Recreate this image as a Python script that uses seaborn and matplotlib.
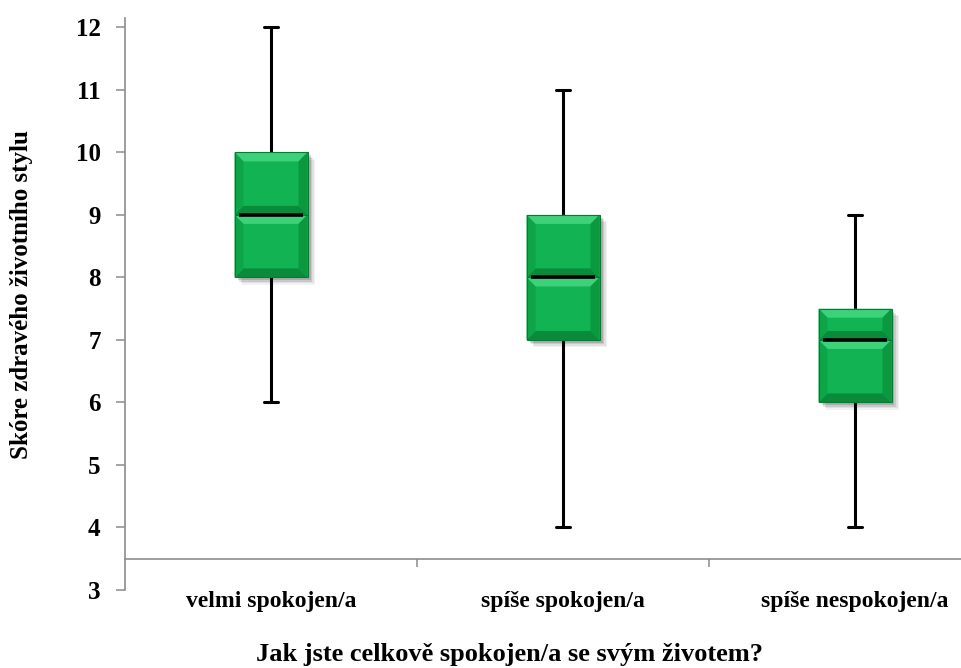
import numpy as np
import pandas as pd
import matplotlib
matplotlib.use("Agg")
import matplotlib.pyplot as plt
from matplotlib.patches import Polygon, Rectangle
from matplotlib.ticker import FixedLocator
import seaborn as sns

# ---------------- data ----------------
categories = ["velmi spokojen/a", "spíše spokojen/a", "spíše nespokojen/a"]
# small samples whose min / Q1 / median / Q3 / max reproduce the boxes
scores_velmi = [6, 8, 8, 9, 10, 10, 12]
scores_spise = [4, 7, 7, 8, 9, 9, 11]
scores_nespok = [4, 6, 6, 7, 7.5, 7.5, 9]
y_ticks = [3, 4, 5, 6, 7, 8, 9, 10, 11, 12]
y_label = "Skóre zdravého životního stylu"
x_label = "Jak jste celkově spokojen/a se svým životem?"

groups = [scores_velmi, scores_spise, scores_nespok]
df = pd.DataFrame({
    "group": np.repeat(categories, [len(g) for g in groups]),
    "score": np.concatenate(groups),
})

# ---------------- style ----------------
sns.set_theme(style="white")
plt.rcParams["font.family"] = ["Liberation Serif", "DejaVu Serif"]
plt.rcParams["font.weight"] = "bold"
plt.rcParams["text.color"] = "black"
plt.rcParams["axes.labelcolor"] = "black"
plt.rcParams["xtick.labelcolor"] = "black"
plt.rcParams["ytick.labelcolor"] = "black"

GREEN = "#12b352"
LIGHT = "#3dd27a"
DARK = "#0a8a3b"
MID = "#0ea548"
MID2 = "#0b983f"

fig = plt.figure(figsize=(9.61, 6.68), dpi=100)
ax = fig.add_axes([125 / 961, 78 / 668, 876 / 961, 572 / 668])

sns.boxplot(data=df, x="group", y="score", order=categories, whis=(0, 100),
            width=0.25, color=GREEN, saturation=1, linecolor="black",
            linewidth=2.2, showfliers=False, ax=ax,
            medianprops={"color": "black", "linewidth": 2.6})

ax.set_xlim(-0.5, 2.5)
ax.set_ylim(3, 12.15)

# pixel -> data conversions
p0 = ax.transData.transform((0, 0))
px_x = ax.transData.transform((1, 0))[0] - p0[0]
px_y = ax.transData.transform((0, 1))[1] - p0[1]

# shrink whisker caps and inset medians
for ln in ax.lines:
    xd, yd = np.asarray(ln.get_xdata(), float), np.asarray(ln.get_ydata(), float)
    if len(xd) == 2 and yd[0] == yd[1] and abs(xd[1] - xd[0]) < 0.2:
        c = xd.mean()
        half = 7 / px_x
        ln.set_xdata([c - half, c + half])
    if len(xd) == 2 and yd[0] == yd[1] and abs(xd[1] - xd[0]) >= 0.2:
        c = xd.mean()
        half = (xd[1] - xd[0]) / 2 * 0.88
        ln.set_xdata([c - half, c + half])

# bevelled boxes
bx, by = 9 / px_x, 9 / px_y
for i, patch in enumerate(ax.patches[:len(categories)]):
    verts = patch.get_path().vertices
    x0, x1 = verts[:, 0].min(), verts[:, 0].max()
    q1, q3 = verts[:, 1].min(), verts[:, 1].max()
    med = float(np.median(groups[i]))
    patch.set_edgecolor("none")
    patch.set_facecolor(GREEN)
    # shadow
    for k, a in enumerate([0.14, 0.10, 0.07, 0.05]):
        off = (3 + k * 1.5)
        ax.add_patch(Rectangle((x0 + off / px_x, q1 - off / px_y), x1 - x0, q3 - q1,
                               facecolor="black", edgecolor="none", alpha=a, zorder=1.8))
    for (y0, y1) in [(q1, med), (med, q3)]:
        ax.add_patch(Rectangle((x0, y0), x1 - x0, y1 - y0, facecolor=GREEN,
                               edgecolor="none", zorder=2.02))
        polys = [
            ([(x0, y1), (x1, y1), (x1 - bx, y1 - by), (x0 + bx, y1 - by)], LIGHT),
            ([(x0, y0), (x1, y0), (x1 - bx, y0 + by), (x0 + bx, y0 + by)], DARK),
            ([(x0, y0), (x0 + bx, y0 + by), (x0 + bx, y1 - by), (x0, y1)], MID),
            ([(x1, y0), (x1 - bx, y0 + by), (x1 - bx, y1 - by), (x1, y1)], MID2),
        ]
        for pts, col in polys:
            ax.add_patch(Polygon(pts, closed=True, facecolor=col, edgecolor="none",
                                 zorder=2.03))
        ax.add_patch(Rectangle((x0, y0), x1 - x0, y1 - y0, facecolor="none",
                               edgecolor="#087a33", linewidth=0.8, zorder=2.04))

# axes styling
for s in ["top", "right"]:
    ax.spines[s].set_visible(False)
ax.spines["left"].set_color("#8c8c8c")
ax.spines["left"].set_linewidth(1.2)
ax.spines["bottom"].set_color("#8c8c8c")
ax.spines["bottom"].set_linewidth(1.2)
ax.spines["bottom"].set_position(("data", 3.5))

ax.set_yticks(y_ticks)
ax.tick_params(axis="y", which="major", left=True, length=6.5, width=1.1,
               color="#8c8c8c", direction="out", labelsize=18, pad=11)
for t in ax.get_yticklabels():
    t.set_fontweight("bold")

ax.set_xticks(range(len(categories)))
ax.set_xticklabels(categories)
ax.xaxis.set_minor_locator(FixedLocator([0.5, 1.5, 2.5]))
ax.tick_params(axis="x", which="major", bottom=True, length=0, labelsize=17, pad=23)
ax.tick_params(axis="x", which="minor", bottom=True, length=6, width=1.1,
               color="#8c8c8c", direction="out")
for t in ax.get_xticklabels():
    t.set_fontweight("bold")

ax.set_xlabel(x_label, fontsize=19, fontweight="bold")
ax.xaxis.label.set_va("center")
ax.xaxis.set_label_coords((509 - 125) / 876, -65 / 572)
ax.set_ylabel(y_label, fontsize=18, fontweight="bold")
ax.yaxis.label.set_va("center")
ax.yaxis.set_label_coords((22 - 125) / 876, (590 - 295) / 572)

fig.savefig("out.png", dpi=100)
